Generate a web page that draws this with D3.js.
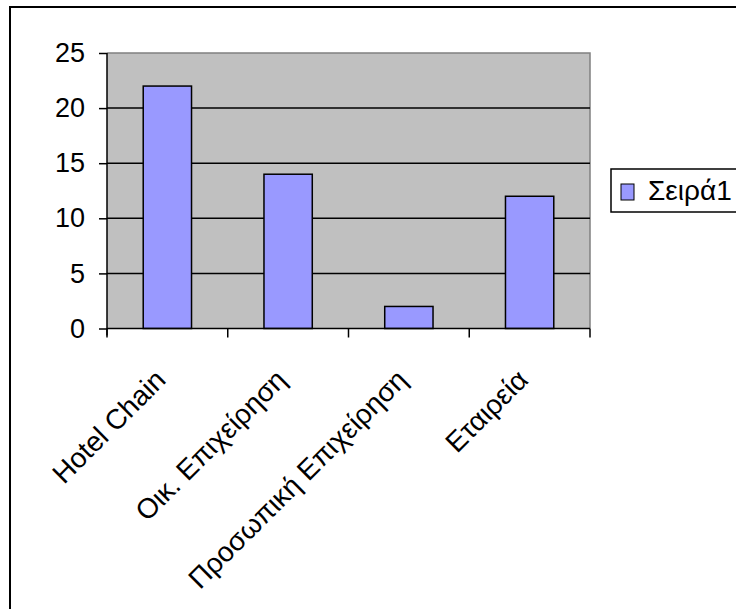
<!DOCTYPE html>
<html>
<head>
<meta charset="utf-8">
<script src="https://cdn.jsdelivr.net/npm/d3@7"></script>
<style>
  html, body { margin: 0; padding: 0; background: #fff; overflow: hidden; }
  svg { display: block; }
  text { font-family: "Liberation Sans", Arial, sans-serif; fill: #000; }
</style>
</head>
<body>
<svg id="chart" width="736" height="609"></svg>
<script>
// Categories and the single series
const categories = ["Hotel Chain", "Οικ. Επιχείρηση", "Προσωπική Επιχείρηση", "Εταιρεία"];
const values = [22, 14, 2, 12];
const seriesName = "Σειρά1";
const yTicks = [0, 5, 10, 15, 20, 25];

const TICK_FONT = 27;
const LABEL_FONT = 28;
const svg = d3.select("#chart");

// Chart frame (runs past the right and bottom edges of the window)
svg.append("rect")
  .attr("x", 10).attr("y", 7)
  .attr("width", 800).attr("height", 700)
  .attr("fill", "#fff").attr("stroke", "#000").attr("stroke-width", 2);

const plot = { left: 107, right: 590, top: 53, bottom: 328.5 };

const x = d3.scaleBand()
  .domain(categories)
  .range([plot.left, plot.right])
  .paddingInner(0.6)
  .paddingOuter(0.3);

const xGroup = d3.scaleBand()
  .domain(categories)
  .range([plot.left, plot.right]);

const y = d3.scaleLinear()
  .domain([0, 25])
  .range([plot.bottom, plot.top]);

// Plot area background
svg.append("rect")
  .attr("x", plot.left).attr("y", plot.top)
  .attr("width", plot.right - plot.left).attr("height", plot.bottom - plot.top)
  .attr("fill", "#c0c0c0");

// Top and right border of the plot area
svg.append("path")
  .attr("d", `M${plot.left},${plot.top}H${plot.right}V${plot.bottom}`)
  .attr("fill", "none").attr("stroke", "#808080").attr("stroke-width", 1.5);

// Horizontal gridlines
svg.append("g")
  .selectAll("line")
  .data(yTicks.filter(t => t > 0 && t < 25))
  .join("line")
  .attr("x1", plot.left).attr("x2", plot.right)
  .attr("y1", d => y(d)).attr("y2", d => y(d))
  .attr("stroke", "#000").attr("stroke-width", 1.5);

// Bars
svg.append("g")
  .selectAll("rect")
  .data(values)
  .join("rect")
  .attr("x", (d, i) => x(categories[i]))
  .attr("y", d => y(d))
  .attr("width", x.bandwidth())
  .attr("height", d => y(0) - y(d))
  .attr("fill", "#9999ff")
  .attr("stroke", "#000").attr("stroke-width", 1.5);

// Y axis
const yAxis = svg.append("g")
  .attr("transform", `translate(${plot.left},0)`)
  .call(d3.axisLeft(y).tickValues(yTicks).tickSize(8).tickPadding(14).tickFormat(d3.format("d")));
yAxis.select(".domain").attr("stroke", "#000").attr("stroke-width", 1.5)
  .attr("d", `M0,${plot.top}V${plot.bottom + 7}`);
yAxis.selectAll(".tick line").attr("stroke", "#000").attr("stroke-width", 1.5);
yAxis.selectAll(".tick text")
  .attr("font-size", TICK_FONT)
  .style("font-family", "'Liberation Sans', Arial, sans-serif");

// X axis with ticks at category boundaries
const boundaries = categories.map(c => xGroup(c)).concat([plot.right]);
const xAxis = svg.append("g");
xAxis.append("line")
  .attr("x1", plot.left).attr("x2", plot.right)
  .attr("y1", plot.bottom).attr("y2", plot.bottom)
  .attr("stroke", "#000").attr("stroke-width", 1.5);
xAxis.selectAll("line.tk")
  .data(boundaries)
  .join("line")
  .attr("class", "tk")
  .attr("x1", d => d).attr("x2", d => d)
  .attr("y1", plot.bottom).attr("y2", plot.bottom + 9)
  .attr("stroke", "#000").attr("stroke-width", 1.5);

// Rotated category labels
xAxis.selectAll("text")
  .data(categories)
  .join("text")
  .attr("transform", d => `translate(${xGroup(d) + xGroup.bandwidth() / 2},${plot.bottom + 53}) rotate(-45)`)
  .attr("text-anchor", "end")
  .attr("font-size", LABEL_FONT)
  .text(d => d);

// Legend
const legend = svg.append("g").attr("transform", "translate(611,169)");
legend.append("rect")
  .attr("x", 0).attr("y", 0).attr("width", 200).attr("height", 43)
  .attr("fill", "#fff").attr("stroke", "#000").attr("stroke-width", 1.5);
legend.append("rect")
  .attr("x", 10).attr("y", 15).attr("width", 13).attr("height", 16)
  .attr("fill", "#9999ff").attr("stroke", "#000").attr("stroke-width", 1);
legend.append("text")
  .attr("x", 37).attr("y", 31)
  .attr("font-size", LABEL_FONT)
  .text(seriesName);
</script>
</body>
</html>
